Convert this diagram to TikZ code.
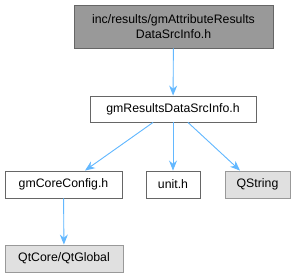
\documentclass[tikz,border=0pt]{standalone}
\usepackage{fontspec}
\setmainfont{Liberation Sans}
\usetikzlibrary{arrows.meta,positioning}
\definecolor{cEdge}{RGB}{99,184,255}
\definecolor{cMain}{RGB}{153,153,153}
\definecolor{cMainBd}{RGB}{102,102,102}
\definecolor{cExt}{RGB}{224,224,224}
\definecolor{cExtBd}{RGB}{153,153,153}
\definecolor{cBd}{RGB}{102,102,102}
\tikzset{
  hdr/.style={draw=cBd, fill=white, align=center, font=\fontsize{12.3}{15}\selectfont,
              inner sep=0pt, line width=0.9pt},
  mainhdr/.style={hdr, draw=cMainBd, fill=cMain},
  exthdr/.style={hdr, draw=cExtBd, fill=cExt},
  inc/.style={-{Stealth[length=10pt,width=8pt]}, draw=cEdge, fill=cEdge, line width=0.9pt},
}

\begin{document}
\begin{tikzpicture}[x=1pt, y=-1pt]
\useasboundingbox (0,0) rectangle (296,277);
% files
\node[mainhdr, minimum width=199pt, minimum height=43pt] (attr) at (173.5,26.5)
  {inc/results/gmAttributeResults\\DataSrcInfo.h};
\node[hdr, minimum width=166pt, minimum height=26pt] (src) at (173,109)
  {gmResultsDataSrcInfo.h};
\node[hdr, minimum width=117pt, minimum height=27pt] (core) at (63.5,184.5)
  {gmCoreConfig.h};
\node[hdr, minimum width=54pt, minimum height=27pt] (unit) at (173,184.5) {unit.h};
\node[exthdr, minimum width=65pt, minimum height=27pt] (qstr) at (257.5,184.5) {QString};
\node[exthdr, minimum width=118pt, minimum height=27pt] (qtg) at (64,258.5)
  {QtCore/QtGlobal};

% includes
\draw[inc] (attr) -- (src);
\draw[inc] (src.south -| 153,0) -- (core.north -| 85,0);
\draw[inc] (src) -- (unit);
\draw[inc] (src.south -| 188,0) -- (qstr.north -| 240,0);
\draw[inc] (core) -- (qtg);
\end{tikzpicture}
\end{document}
